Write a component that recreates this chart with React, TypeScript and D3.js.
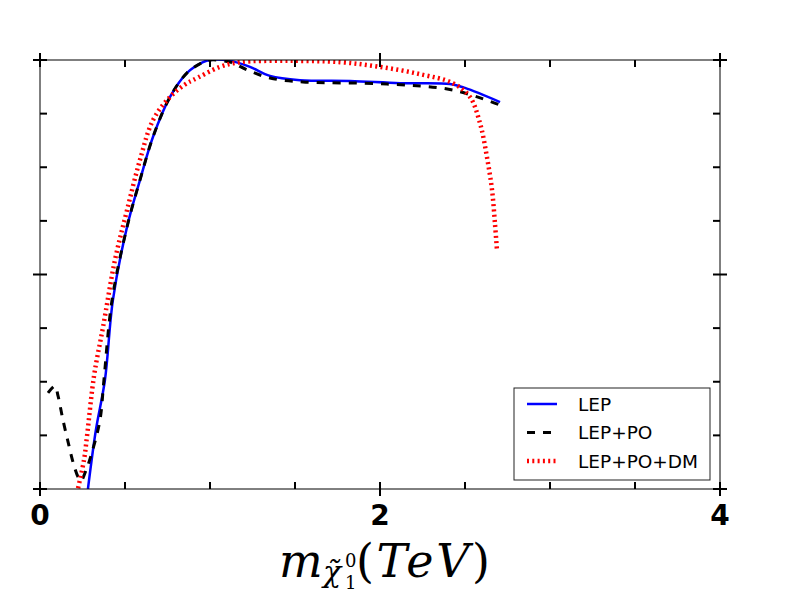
import * as d3 from "d3";

// LEP (solid blue)
const lepX = [0.282, 0.329, 0.382, 0.429, 0.512, 0.588, 0.665, 0.765, 0.865, 0.959, 1.0, 1.118, 1.235, 1.353, 1.529, 1.824, 2.118, 2.412, 2.5, 2.706];
const lepY = [0.0, 0.138, 0.254, 0.441, 0.611, 0.72, 0.821, 0.914, 0.97, 0.995, 1.0, 0.998, 0.984, 0.963, 0.953, 0.951, 0.946, 0.944, 0.935, 0.902];

// LEP+PO (black dashed)
const poX = [0.047, 0.088, 0.106, 0.135, 0.165, 0.194, 0.224, 0.241, 0.271, 0.306, 0.353, 0.376, 0.424, 0.512, 0.588, 0.665, 0.765, 0.865, 0.959, 1.0, 1.118, 1.218, 1.353, 1.547, 2.041, 2.429, 2.706];
const poY = [0.224, 0.24, 0.217, 0.161, 0.11, 0.063, 0.028, 0.019, 0.044, 0.086, 0.161, 0.254, 0.441, 0.611, 0.72, 0.821, 0.914, 0.97, 0.995, 1.0, 0.995, 0.977, 0.958, 0.949, 0.944, 0.93, 0.895];

// LEP+PO+DM (red dotted)
const dmX = [0.224, 0.259, 0.276, 0.318, 0.371, 0.441, 0.512, 0.588, 0.665, 0.765, 0.865, 0.9, 1.059, 1.176, 1.453, 1.765, 2.0, 2.235, 2.429, 2.529, 2.588, 2.629, 2.659, 2.676, 2.688];
const dmY = [0.002, 0.068, 0.121, 0.264, 0.378, 0.534, 0.65, 0.767, 0.86, 0.914, 0.946, 0.953, 0.984, 0.995, 0.998, 0.995, 0.984, 0.967, 0.946, 0.914, 0.853, 0.774, 0.697, 0.62, 0.557];

const xMajor = [0, 2, 4];
const xMinor = [0.5, 1, 1.5, 2.5, 3, 3.5];
const yMajor = [0, 0.5, 1];
const yMinor = [0.125, 0.25, 0.375, 0.625, 0.75, 0.875];

const series = [
  { name: "LEP", xs: lepX, ys: lepY, color: "#0000ff", width: 2.5, dash: null },
  { name: "LEP+PO", xs: poX, ys: poY, color: "#000000", width: 3, dash: "8,8" },
  { name: "LEP+PO+DM", xs: dmX, ys: dmY, color: "#ff0000", width: 4.5, dash: "2,3.3" },
];

const left = 40, right = 720, top = 60, bottom = 489;

export default function App() {
  const x = d3.scaleLinear().domain([0, 4]).range([left, right]);
  const y = d3.scaleLinear().domain([0, 1]).range([bottom, top]);

  const line = d3
    .line<[number, number]>()
    .x((d) => x(d[0]))
    .y((d) => y(d[1]))
    .curve(d3.curveCatmullRom.alpha(0.5));

  const tk = 7;

  return (
    <svg
      width={800}
      height={600}
      style={{ position: "absolute", left: 0, top: 0, background: "#fff" }}
      fontFamily="DejaVu Sans"
    >
      <defs>
        <clipPath id="plot">
          <rect x={left} y={top} width={right - left} height={bottom - top} />
        </clipPath>
      </defs>

      {/* curves */}
      <g clipPath="url(#plot)">
        {series.map((s) => (
          <path
            key={s.name}
            d={line(s.xs.map((v, i) => [v, s.ys[i]]) as [number, number][]) || ""}
            fill="none"
            stroke={s.color}
            strokeWidth={s.width}
            strokeDasharray={s.dash || undefined}
          />
        ))}
      </g>

      {/* frame */}
      <rect x={left} y={top} width={right - left} height={bottom - top} fill="none" stroke="#000" strokeWidth={1} />

      {/* ticks */}
      <g stroke="#000" strokeWidth={2}>
        {xMajor.map((v) => (
          <g key={"xM" + v}>
            <line x1={x(v)} x2={x(v)} y1={bottom - tk} y2={bottom + tk} />
            <line x1={x(v)} x2={x(v)} y1={top - tk} y2={top + tk} />
          </g>
        ))}
        {xMinor.map((v) => (
          <g key={"xm" + v}>
            <line x1={x(v)} x2={x(v)} y1={bottom - tk} y2={bottom} />
            <line x1={x(v)} x2={x(v)} y1={top} y2={top + tk} />
          </g>
        ))}
        {yMajor.map((v) => (
          <g key={"yM" + v}>
            <line x1={left - tk} x2={left + tk} y1={y(v)} y2={y(v)} />
            <line x1={right - tk} x2={right + tk} y1={y(v)} y2={y(v)} />
          </g>
        ))}
        {yMinor.map((v) => (
          <g key={"ym" + v}>
            <line x1={left} x2={left + tk} y1={y(v)} y2={y(v)} />
            <line x1={right - tk} x2={right} y1={y(v)} y2={y(v)} />
          </g>
        ))}
      </g>

      {/* x tick labels */}
      {xMajor.map((v) => (
        <text key={"xl" + v} x={x(v)} y={525} textAnchor="middle" fontSize={28} fontWeight="bold">
          {v}
        </text>
      ))}

      {/* x axis label: m_{chi~_1^0}(TeV) */}
      <g fontFamily="DejaVu Serif" fill="#000">
        <text x={279} y={577} fontSize={46} fontStyle="italic">m</text>
        <text x={323} y={582} fontSize={30} fontStyle="italic">χ̃</text>
        <text x={345} y={567} fontSize={18}>0</text>
        <text x={345} y={589} fontSize={18}>1</text>
        <text x={356} y={577} fontSize={46} textLength={134} lengthAdjust="spacing">
          <tspan>(</tspan>
          <tspan fontStyle="italic">TeV</tspan>
          <tspan>)</tspan>
        </text>
      </g>

      {/* legend */}
      <rect x={514} y={388} width={196} height={92} fill="#fff" stroke="#222" strokeWidth={1} />
      {series.map((s, i) => (
        <g key={"lg" + s.name}>
          <line
            x1={527}
            x2={557}
            y1={404 + i * 28.5}
            y2={404 + i * 28.5}
            stroke={s.color}
            strokeWidth={s.width}
            strokeDasharray={s.dash || undefined}
          />
          <text x={578} y={404 + i * 28.5 + 6.5} fontSize={18.5}>
            {s.name}
          </text>
        </g>
      ))}
    </svg>
  );
}
